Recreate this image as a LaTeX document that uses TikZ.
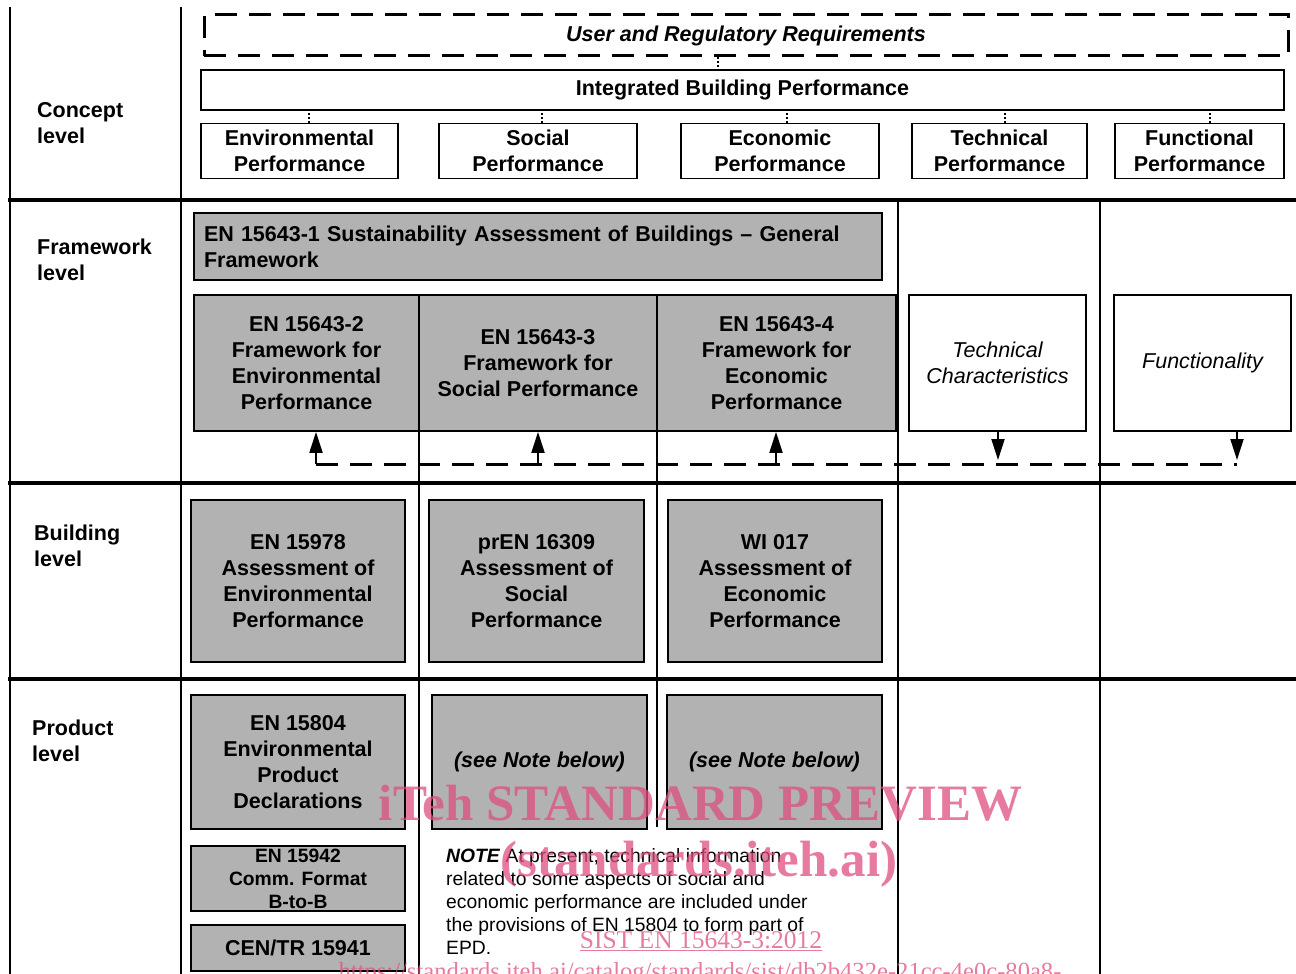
\documentclass[tikz,border=0pt]{standalone}
\usepackage{fontspec}
\setmainfont{Liberation Sans}
\newfontfamily\wmserif{Liberation Serif}
\usepackage{tikz}
\usetikzlibrary{
  arrows.meta,%
  positioning
}
\definecolor{boxgrey}{RGB}{178,178,178}
\definecolor{wmpink}{RGB}{222,78,128}
\newcommand{\lvlfont}{\fontsize{21.5}{26}\selectfont}
\newcommand{\smlfont}{\fontsize{19.3}{23}\selectfont}
\tikzset{>={Triangle[length=21pt,width=13pt]}}
\tikzset{
  cbox/.style={draw, line width=1.8pt, fill=white, align=center, inner sep=0pt,
    font=\lvlfont\bfseries},
  gbox/.style={cbox, fill=boxgrey},
  reqbox/.style={draw, line width=3pt, dash pattern=on 22pt off 12pt, inner sep=0pt,
    font=\lvlfont\bfseries\itshape},
  lvl/.style={anchor=west, align=left, inner sep=0pt, font=\lvlfont\bfseries},
  rule/.style={line width=2pt},
  thickrule/.style={line width=4pt},
  link/.style={line width=1.2pt, dash pattern=on 2pt off 2pt},
  feedback/.style={line width=3pt, dash pattern=on 22pt off 12pt},
  wmark/.style={text=wmpink, text opacity=0.75, inner sep=0pt, anchor=base}
}

\begin{document}
\begin{tikzpicture}[x=1pt,y=-1pt]
  \useasboundingbox (0,0) rectangle (1296,974);
  \clip (0,0) rectangle (1296,974);

  % table frame
  \draw[rule] (10,7) -- (10,974);
  \draw[rule] (181,7) -- (181,974);
  \foreach \y in {200,483,679}
    \draw[thickrule] (8,\y) -- (1296,\y);
  \foreach \x in {898,1100}
    \draw[rule] (\x,200) -- (\x,974);
  \draw[rule] (419,431) -- (419,974);
  \draw[rule] (657,431) -- (657,827);

  % level names
  \node[lvl] (lconc) at (37,123) {Concept\\level};
  \node[lvl] (lfram) at (37,260) {Framework\\level};
  \node[lvl] (lbuil) at (34,546) {Building\\level};
  \node[lvl] (lprod) at (32,741) {Product\\level};

  % concept level
  \node[reqbox, minimum width=1084pt, minimum height=41pt] (reqs) at (746,35.5)
    {User and Regulatory Requirements};
  \node[cbox, minimum width=1083pt, minimum height=40pt] (ibp) at (742.5,90)
    {Integrated Building Performance};
  \node[cbox, minimum width=197pt, minimum height=55pt] (envp) at (299.5,151)
    {Environmental\\Performance};
  \node[cbox, minimum width=198pt, minimum height=55pt] (socp) at (538,151)
    {Social\\Performance};
  \node[cbox, minimum width=198pt, minimum height=55pt] (ecop) at (780,151)
    {Economic\\Performance};
  \node[cbox, minimum width=175pt, minimum height=55pt] (tecp) at (999.5,151)
    {Technical\\Performance};
  \node[cbox, minimum width=169pt, minimum height=55pt] (funp) at (1199.5,151)
    {Functional\\Performance};
  \draw[link] ([xshift=-28pt]reqs.south) -- ([xshift=-28pt]reqs.south |- ibp.north);
  \foreach \b/\dx in {envp/9.5, socp/4, ecop/7, tecp/5.5, funp/10.5}
    \draw[link] ([xshift=\dx pt]\b.north) -- ([xshift=\dx pt]\b.north |- ibp.south);

  % framework level
  \node[gbox, align=left, text width=668pt, minimum height=67pt, inner xsep=10pt]
    (gen) at (538,246.5)
    {EN 15643-1 Sustainability Assessment of Buildings -- General\\Framework};
  \node[gbox, minimum width=225pt, minimum height=136pt] (fenv) at (306.5,363)
    {EN 15643-2\\Framework for\\Environmental\\Performance};
  \node[gbox, minimum width=238pt, minimum height=136pt] (fsoc) at (538,363)
    {EN 15643-3\\Framework for\\Social Performance};
  \node[gbox, minimum width=239pt, minimum height=136pt] (feco) at (776.5,363)
    {EN 15643-4\\Framework for\\Economic\\Performance};
  \node[cbox, font=\lvlfont\itshape, minimum width=177pt, minimum height=136pt]
    (tchar) at (997.5,363) {Technical\\Characteristics};
  \node[cbox, font=\lvlfont\itshape, minimum width=177pt, minimum height=136pt]
    (func) at (1202.5,363) {Functionality};

  \coordinate (a1) at (316,464);
  \coordinate (a2) at (538,464);
  \coordinate (a3) at (776,464);
  \coordinate (a4) at (998,464);
  \coordinate (a5) at (1237,464);
  \draw[feedback] (a1) -- (a5);
  \draw[rule,->] (a1) -- (a1 |- fenv.south);
  \draw[rule,->] (a2) -- (a2 |- fsoc.south);
  \draw[rule,->] (a3) -- (a3 |- feco.south);
  \draw[rule,->,shorten >=4pt] (a4 |- tchar.south) -- (a4);
  \draw[rule,->,shorten >=4pt] (a5 |- func.south) -- (a5);

  % building level
  \node[gbox, minimum width=214pt, minimum height=162pt] (benv) at (298,581)
    {EN 15978\\Assessment of\\Environmental\\Performance};
  \node[gbox, minimum width=215pt, minimum height=162pt] (bsoc) at (536.5,581)
    {prEN 16309\\Assessment of\\Social\\Performance};
  \node[gbox, minimum width=214pt, minimum height=162pt] (beco) at (775,581)
    {WI 017\\Assessment of\\Economic\\Performance};

  % product level
  \node[gbox, minimum width=214pt, minimum height=134pt] (penv) at (298,762)
    {EN 15804\\Environmental\\Product\\Declarations};
  \node[gbox, font=\lvlfont\bfseries\itshape, minimum width=215pt, minimum height=134pt]
    (psoc) at (539.5,762) {(see Note below)};
  \node[gbox, font=\lvlfont\bfseries\itshape, minimum width=215pt, minimum height=134pt]
    (peco) at (774.5,762) {(see Note below)};
  \node[gbox, font=\smlfont\bfseries, minimum width=214pt, minimum height=65pt]
    (pcomm) at (298,878.5) {EN 15942\\Comm. Format\\B-to-B};
  \node[gbox, minimum width=214pt, minimum height=46pt] (ptr) at (298,948)
    {CEN/TR 15941};
  \node[anchor=west, align=left, inner sep=0pt, font=\smlfont] (note) at (446,901.5)
    {\textbf{\textit{NOTE}} At present, technical information\\
     related to some aspects of social and\\
     economic performance are included under\\
     the provisions of EN 15804 to form part of\\
     EPD.};

  % watermark
  \node[wmark, font=\wmserif\fontsize{51}{55}\selectfont\bfseries] (wm1) at (700.5,820)
    {iTeh STANDARD PREVIEW};
  \node[wmark, font=\wmserif\fontsize{51}{55}\selectfont\bfseries] (wm2) at (699,876)
    {(standards.iteh.ai)};
  \node[wmark, font=\wmserif\fontsize{25.5}{28}\selectfont] (wm3) at (701,948)
    {\underline{SIST EN 15643-3:2012}};
  \node[wmark, font=\wmserif\fontsize{24.6}{28}\selectfont] (wm4) at (700,979)
    {\underline{https://standards.iteh.ai/catalog/standards/sist/db2b432e-21cc-4e0c-80a8-}};
\end{tikzpicture}
\end{document}
